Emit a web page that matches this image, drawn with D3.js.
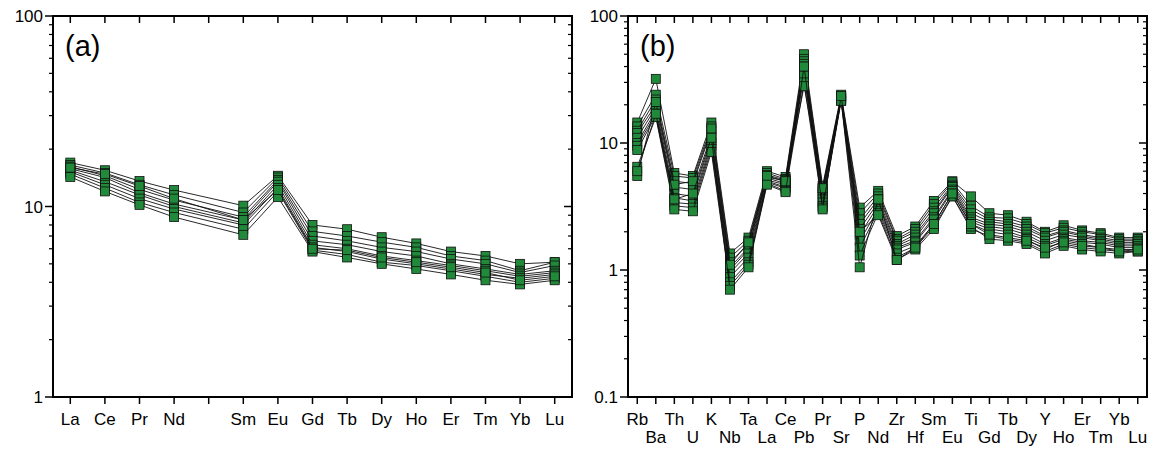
<!DOCTYPE html>
<html>
<head>
<meta charset="utf-8">
<script src="https://cdn.jsdelivr.net/npm/d3@7"></script>
<style>
  body { margin: 0; background: #fff; }
  svg { display: block; }
  text { font-family: "Liberation Sans", Arial, sans-serif; fill: #000; }
</style>
</head>
<body>
<svg id="chart" width="1150" height="449"></svg>
<script>
// (a) chondrite-normalised REE, Pm left empty
const reeElements = ["La", "Ce", "Pr", "Nd", "", "Sm", "Eu", "Gd", "Tb", "Dy", "Ho", "Er", "Tm", "Yb", "Lu"];
const reeSamples = [
  [17.0, 15.5, 13.6, 12.2, null, 10.1, 14.5, 8.0, 7.6, 6.9, 6.4, 5.8, 5.5, 5.0, 5.1],
  [16.5, 15.0, 13.0, 11.5, null, 9.3, 14.2, 7.4, 7.0, 6.5, 6.1, 5.5, 5.2, 4.6, 5.1],
  [16.2, 14.5, 12.3, 10.8, null, 8.8, 13.8, 7.0, 6.6, 6.1, 5.8, 5.3, 5.0, 4.5, 4.9],
  [15.8, 14.2, 11.8, 10.3, null, 8.5, 13.5, 6.6, 6.3, 5.8, 5.5, 5.0, 4.7, 4.4, 4.6],
  [15.5, 13.5, 11.5, 10.0, null, 8.2, 13.0, 6.3, 6.0, 5.5, 5.2, 4.9, 4.6, 4.3, 4.5],
  [15.2, 13.0, 11.0, 9.7, null, 8.0, 12.5, 6.1, 5.8, 5.3, 5.0, 4.7, 4.4, 4.2, 4.4],
  [14.8, 12.5, 10.5, 9.3, null, 7.6, 12.0, 5.9, 5.6, 5.1, 4.9, 4.6, 4.3, 4.0, 4.2],
  [14.3, 12.0, 10.2, 8.8, null, 7.1, 11.2, 5.8, 5.4, 5.0, 4.7, 4.4, 4.1, 3.9, 4.1],
  [16.0, 14.8, 12.8, 11.0, null, 8.5, 12.2, 6.0, 5.9, 5.4, 5.1, 4.8, 4.5, 4.1, 4.3]
];

// (b) primitive-mantle-normalised spider diagram
const spiderElements = ["Rb", "Ba", "Th", "U", "K", "Nb", "Ta", "La", "Ce", "Pb", "Pr", "Sr", "P", "Nd",
  "Zr", "Hf", "Sm", "Eu", "Ti", "Gd", "Tb", "Dy", "Y", "Ho", "Er", "Tm", "Yb", "Lu"];
const spiderSamples = [
  [14.5, 32, 5.8, 5.5, 14.5, 1.35, 1.8, 6.0, 5.4, 50, 4.6, 24, 3.1, 4.2, 1.85, 2.2, 3.5, 5.0, 3.8, 2.8, 2.7, 2.4, 2.0, 2.25, 2.05, 1.95, 1.8, 1.8],
  [13.5, 24, 5.5, 5.3, 13.5, 1.25, 1.7, 5.8, 5.2, 46, 4.4, 23.5, 2.8, 4.0, 1.75, 2.1, 3.3, 4.9, 3.2, 2.6, 2.55, 2.3, 1.95, 2.15, 2.0, 1.9, 1.75, 1.75],
  [12.5, 22, 5.0, 4.8, 12.5, 1.15, 1.6, 5.6, 5.1, 44, 4.2, 23, 2.5, 3.8, 1.7, 2.0, 3.1, 4.7, 3.0, 2.5, 2.4, 2.2, 1.85, 2.05, 1.9, 1.8, 1.7, 1.7],
  [12.0, 20, 4.5, 4.3, 11.5, 1.05, 1.5, 5.4, 5.0, 42, 4.0, 23, 2.3, 3.6, 1.6, 1.9, 2.9, 4.6, 2.8, 2.4, 2.3, 2.1, 1.8, 2.0, 1.85, 1.75, 1.65, 1.65],
  [11.0, 19, 4.0, 3.8, 10.5, 1.0, 1.45, 5.3, 4.8, 40, 3.8, 22.5, 2.1, 3.4, 1.55, 1.8, 2.8, 4.5, 2.6, 2.3, 2.2, 2.0, 1.7, 1.9, 1.8, 1.7, 1.6, 1.6],
  [10.0, 18, 3.7, 3.5, 10.0, 0.95, 1.35, 5.1, 4.7, 38, 3.6, 22.5, 1.9, 3.2, 1.5, 1.7, 2.6, 4.3, 2.5, 2.2, 2.1, 1.9, 1.6, 1.8, 1.7, 1.65, 1.55, 1.55],
  [9.5, 17, 3.4, 3.3, 9.5, 0.88, 1.25, 5.0, 4.5, 36, 3.4, 22, 1.7, 3.0, 1.45, 1.65, 2.5, 4.2, 2.4, 2.1, 2.0, 1.8, 1.55, 1.75, 1.65, 1.6, 1.5, 1.5],
  [8.8, 16.5, 3.2, 3.1, 9.0, 0.8, 1.15, 4.9, 4.4, 34, 3.2, 22, 1.5, 2.9, 1.35, 1.55, 2.3, 4.0, 2.3, 2.0, 1.9, 1.75, 1.45, 1.7, 1.6, 1.5, 1.45, 1.45],
  [6.5, 16, 3.0, 2.9, 8.5, 0.75, 1.1, 4.8, 4.2, 30, 3.1, 21.5, 1.3, 2.8, 1.25, 1.5, 2.2, 3.8, 2.1, 1.85, 1.75, 1.65, 1.4, 1.6, 1.5, 1.45, 1.4, 1.4],
  [5.5, 21, 4.7, 5.0, 13, 1.1, 1.65, 5.5, 5.0, 28, 4.4, 21.5, 1.05, 3.6, 1.2, 1.45, 2.1, 3.8, 2.2, 1.75, 1.7, 1.6, 1.35, 1.55, 1.45, 1.4, 1.35, 1.4],
  [6.0, 17, 3.6, 4.0, 11, 0.7, 1.05, 4.7, 4.1, 40, 3.0, 23.5, 2.0, 2.7, 1.2, 1.5, 2.3, 4.0, 2.3, 1.9, 1.8, 1.7, 1.5, 1.65, 1.55, 1.5, 1.4, 1.45]
];

const reeYDomain = [1, 100];
const spiderYDomain = [0.1, 100];

const svg = d3.select("#chart");
const markerFill = "#218a3a";
const markerSize = 9;

function drawPanel(opts) {
  const { left, right, top, bottom, cats, samples, yDomain, tag, twoRows } = opts;
  const g = svg.append("g");

  const x = d3.scaleLinear().domain([-0.5, cats.length - 0.5]).range([left, right]);
  const y = d3.scaleLog().domain(yDomain).range([bottom, top]);

  // data lines then markers, sample by sample
  const line = d3.line().x(d => x(d[0])).y(d => y(d[1]));
  samples.forEach(s => {
    const pts = s.map((v, i) => [i, v]).filter(p => p[1] != null);
    const sg = g.append("g");
    sg.append("path")
      .attr("d", line(pts))
      .attr("fill", "none")
      .attr("stroke", "#111")
      .attr("stroke-width", 0.9);
    sg.selectAll("rect")
      .data(pts)
      .enter()
      .append("rect")
      .attr("x", d => x(d[0]) - markerSize / 2)
      .attr("y", d => y(d[1]) - markerSize / 2)
      .attr("width", markerSize)
      .attr("height", markerSize)
      .attr("fill", markerFill)
      .attr("stroke", "#111")
      .attr("stroke-width", 0.8);
  });

  // category ticks: bottom outward, top inward
  cats.forEach((c, i) => {
    const xi = x(i);
    g.append("line").attr("x1", xi).attr("x2", xi).attr("y1", bottom).attr("y2", bottom + 7)
      .attr("stroke", "#000").attr("stroke-width", 1.5);
    g.append("line").attr("x1", xi).attr("x2", xi).attr("y1", top).attr("y2", top + 7)
      .attr("stroke", "#000").attr("stroke-width", 1.5);
    if (c) {
      const row = twoRows ? i % 2 : 0;
      g.append("text")
        .attr("x", xi)
        .attr("y", 425 + row * 18)
        .attr("text-anchor", "middle")
        .style("font-size", "17px")
        .text(c);
    }
  });

  // log ticks: left outward, right inward
  const lo = Math.round(Math.log10(yDomain[0]));
  const hi = Math.round(Math.log10(yDomain[1]));
  for (let e = lo; e <= hi; e++) {
    const base = Math.pow(10, e);
    const yy = y(base);
    g.append("line").attr("x1", left - 8).attr("x2", left).attr("y1", yy).attr("y2", yy)
      .attr("stroke", "#000").attr("stroke-width", 1.5);
    g.append("line").attr("x1", right - 8).attr("x2", right).attr("y1", yy).attr("y2", yy)
      .attr("stroke", "#000").attr("stroke-width", 1.5);
    g.append("text")
      .attr("x", left - 10)
      .attr("y", yy)
      .attr("dy", "0.36em")
      .attr("text-anchor", "end")
      .style("font-size", "17px")
      .text(d3.format("~g")(base));
    if (e < hi) {
      for (let m = 2; m <= 9; m++) {
        const ym = y(base * m);
        g.append("line").attr("x1", left - 4).attr("x2", left).attr("y1", ym).attr("y2", ym)
          .attr("stroke", "#000").attr("stroke-width", 1.2);
        g.append("line").attr("x1", right - 4).attr("x2", right).attr("y1", ym).attr("y2", ym)
          .attr("stroke", "#000").attr("stroke-width", 1.2);
      }
    }
  }

  // frame
  g.append("rect")
    .attr("x", left).attr("y", top)
    .attr("width", right - left).attr("height", bottom - top)
    .attr("fill", "none").attr("stroke", "#000").attr("stroke-width", 2);

  g.append("text")
    .attr("x", left + 12)
    .attr("y", top + 40)
    .style("font-size", "29px")
    .text(tag);
}

drawPanel({ left: 53, right: 572, top: 16, bottom: 397, cats: reeElements, samples: reeSamples,
  yDomain: reeYDomain, tag: "(a)", twoRows: false });
drawPanel({ left: 628, right: 1147, top: 16, bottom: 397, cats: spiderElements, samples: spiderSamples,
  yDomain: spiderYDomain, tag: "(b)", twoRows: true });
</script>
</body>
</html>
